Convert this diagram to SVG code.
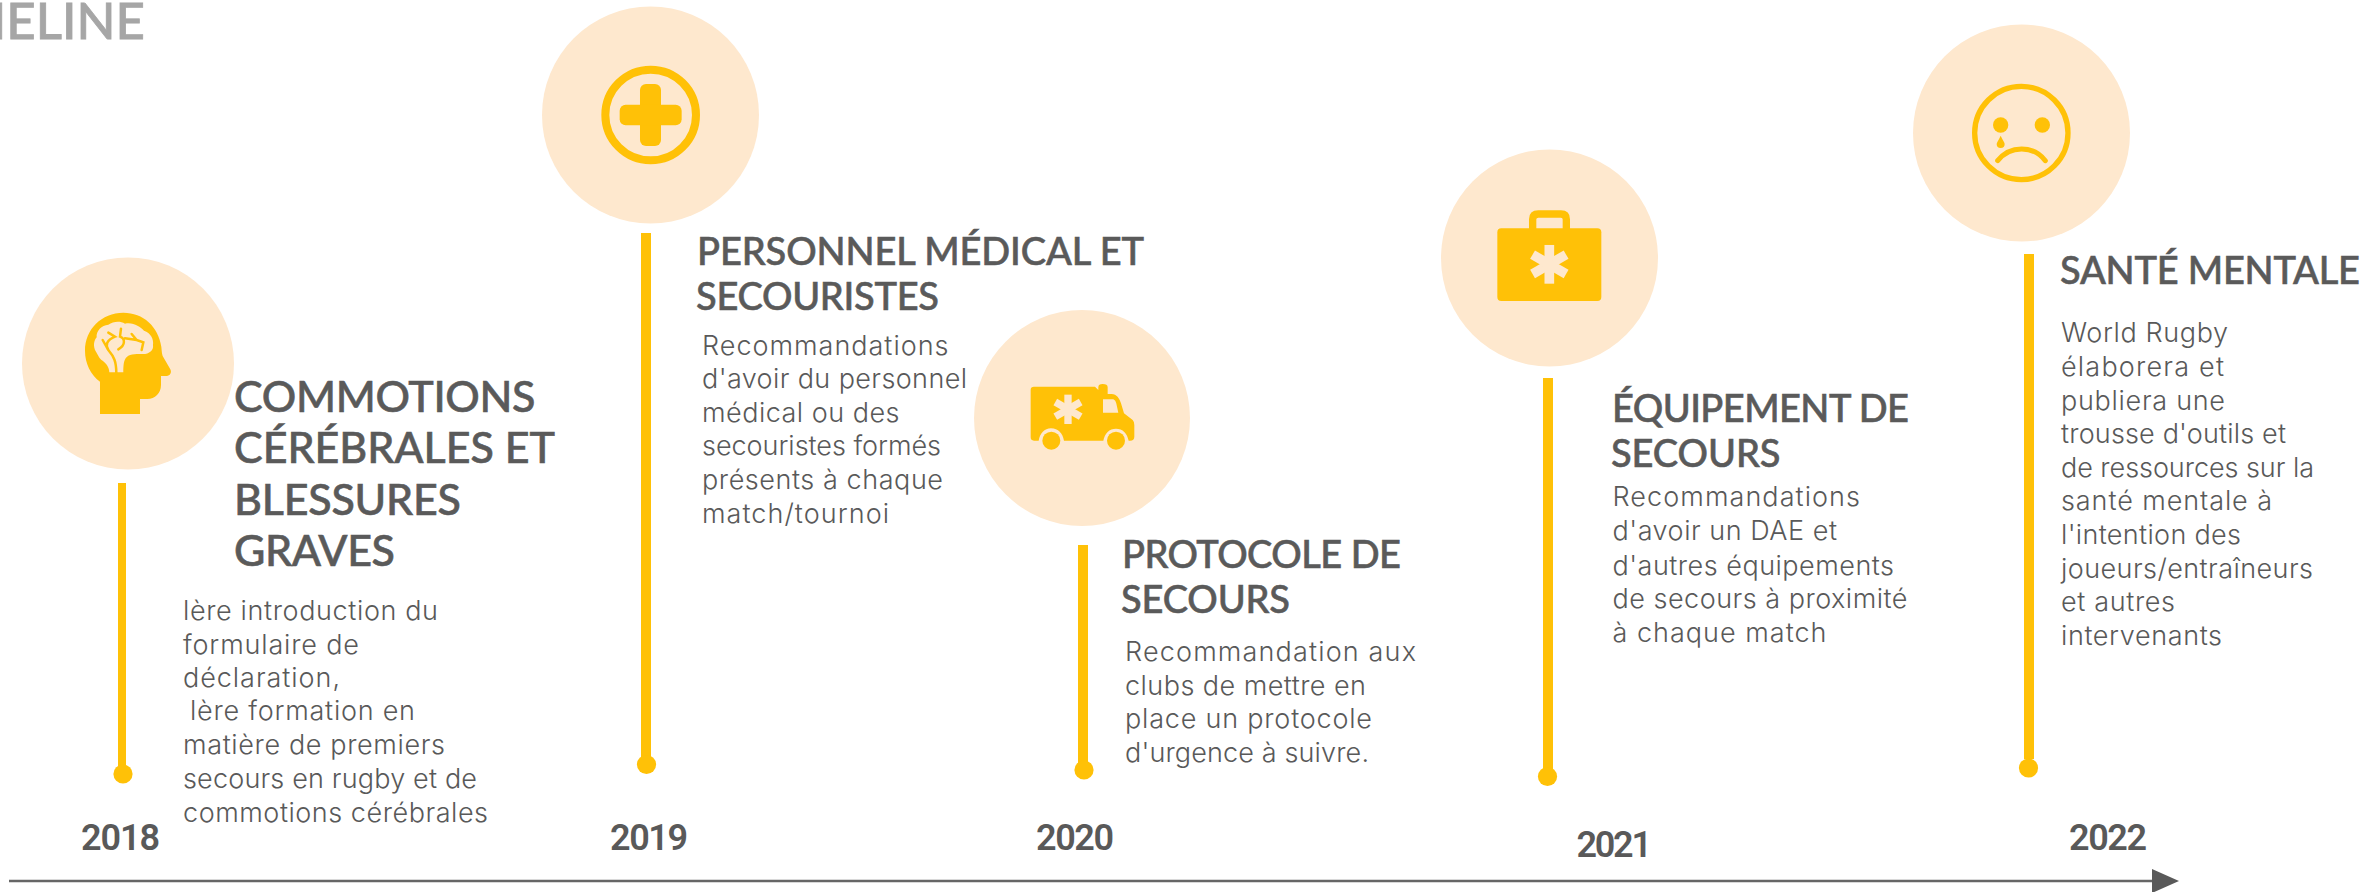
<svg xmlns="http://www.w3.org/2000/svg" width="2374" height="892" viewBox="0 0 2374 892">
<style>
.disc{fill:#FEE8CE}
.bar{fill:#FFC107}
.y{fill:#FFC107}
.l{fill:#FEE8CE}
.ln{fill:none;stroke:#FFC107;stroke-linecap:round}
.h{font-family:"Lato","Liberation Sans",sans-serif;font-weight:500;fill:#5A5A5A;stroke:#5A5A5A;stroke-width:.6px}
.h1{font-size:43px}
.h2{font-size:38px}
.b{font-family:"Inter","Liberation Sans",sans-serif;font-weight:300;font-size:27px;fill:#595959}
.yr{font-family:"Roboto","Liberation Sans",sans-serif;font-weight:600;font-size:36px;fill:#595959}
.ttl{font-family:"Lato","Liberation Sans",sans-serif;font-weight:500;font-size:51px;fill:#A6A6A6;stroke:#A6A6A6;stroke-width:.8px}
</style>
<defs>
<marker id="arrow" markerUnits="userSpaceOnUse" markerWidth="28" markerHeight="24" refX="0" refY="12" orient="auto"><path d="M0 0L27 12L0 24Z" fill="#595959"/></marker>
<g id="star"><rect x="-11" y="-44" width="22" height="88"/><rect x="-11" y="-44" width="22" height="88" transform="rotate(60)"/><rect x="-11" y="-44" width="22" height="88" transform="rotate(-60)"/></g>
</defs>
<rect width="2374" height="892" fill="#FFFFFF"/>
<text class="ttl" x="145" y="39" text-anchor="end">TIMELINE</text>
<g id="connectors">
<line x1="9" y1="881" x2="2152" y2="881" stroke="#666666" stroke-width="2.6" marker-end="url(#arrow)"/>
<rect class="bar" x="118" y="483" width="8" height="288"/>
<rect class="bar" x="641" y="233" width="10" height="525"/>
<rect class="bar" x="1078" y="545" width="10" height="220"/>
<rect class="bar" x="1543" y="378" width="10" height="392"/>
<rect class="bar" x="2024" y="254" width="10" height="505"/>
</g>
<g id="node-2018">
<circle class="disc" cx="128" cy="363.5" r="106"/>
<g transform="translate(60 290) scale(.3333)">
<path class="y" d="M120 372V275C92 255 75 220 75 182C75 118 125 68 190 68C250 68 295 110 304 170C305 182 306 192 308 198L331 238C336 248 330 258 320 258H303V285C303 310 285 327 262 327H240V372Z"/>
<path class="l" d="M148 247C148 232 140 222 128 212C118 207 114 195 108 185C98 170 102 150 110 142C108 122 125 106 145 104C160 94 180 92 195 101C220 96 240 110 252 122C272 128 282 148 279 165C282 182 265 194 245 192C225 192 205 192 197 205C190 215 190 235 190 247Z"/>
<path class="ln" stroke-width="7.5" d="M169 250C169 215 162 200 145 180L128 150M145 180C135 165 140 150 165 140L145 128M175 178C198 165 195 145 180 140L183 116M195 145L230 150L250 157L245 180M230 150L215 132"/>
</g>
<circle class="y" cx="123" cy="774" r="9.6"/>
<text class="h h1"><tspan x="234" y="412" textLength="301.5">COMMOTIONS</tspan><tspan x="234" y="463" textLength="321">CÉRÉBRALES ET</tspan><tspan x="234" y="515" textLength="227">BLESSURES</tspan><tspan x="234" y="566" textLength="161">GRAVES</tspan></text>
<text class="b"><tspan x="183" y="619.5" textLength="255">lère introduction du</tspan><tspan x="183" y="653.5" textLength="176">formulaire de</tspan><tspan x="183" y="686.5" textLength="157">déclaration,</tspan><tspan x="190" y="720" textLength="225">lère formation en</tspan><tspan x="183" y="753.5" textLength="262">matière de premiers</tspan><tspan x="183" y="788" textLength="294">secours en rugby et de</tspan><tspan x="183" y="821.5" textLength="305">commotions cérébrales</tspan></text>
<text class="yr" x="81" y="850" textLength="79">2018</text>
</g>
<g id="node-2019">
<circle class="disc" cx="650.5" cy="115" r="108.5"/>
<g transform="translate(590 50) scale(.3333)">
<circle cx="182" cy="195" r="136" fill="none" stroke="#FFC107" stroke-width="24"/>
<rect class="y" x="150" y="102" width="63" height="186" rx="18"/>
<rect class="y" x="89" y="164" width="186" height="62" rx="18"/>
</g>
<circle class="y" cx="646.5" cy="764.5" r="9.6"/>
<text class="h h2"><tspan x="697" y="265" textLength="447">PERSONNEL MÉDICAL ET</tspan><tspan x="696" y="310" textLength="243">SECOURISTES</tspan></text>
<text class="b"><tspan x="702" y="354.5" textLength="246.5">Recommandations</tspan><tspan x="702" y="387.5" textLength="265">d'avoir du personnel</tspan><tspan x="702" y="421.5" textLength="197.5">médical ou des</tspan><tspan x="702" y="454.5" textLength="239">secouristes formés</tspan><tspan x="702" y="488.5" textLength="241">présents à chaque</tspan><tspan x="702" y="522.5" textLength="187">match/tournoi</tspan></text>
<text class="yr" x="610" y="850" textLength="78">2019</text>
</g>
<g id="node-2020">
<circle class="disc" cx="1082" cy="418" r="108"/>
<g transform="translate(1010 370) scale(.3333)">
<path class="y" d="M62 60Q62 50 72 50H255L265 60V52Q265 42 278 42Q293 42 293 52V72H305C320 72 328 85 333 100L342 130L368 150Q373 155 373 165V200Q373 212 360 212H356C352 190 338 176 318 176C298 176 284 190 280 212H162C158 190 145 175 123 175C103 175 90 190 86 212H72Q62 212 62 202Z"/>
<path class="l" d="M279 88H307C315 88 318 95 320 105L325 128H279Z"/>
<circle class="y" cx="124" cy="212" r="27"/>
<circle class="y" cx="318" cy="212" r="27"/>
<use href="#star" class="l" transform="translate(174 118)"/>
</g>
<circle class="y" cx="1084" cy="770" r="9.6"/>
<text class="h h2"><tspan x="1122" y="568" textLength="279">PROTOCOLE DE</tspan><tspan x="1121" y="613" textLength="169">SECOURS</tspan></text>
<text class="b"><tspan x="1125" y="660.5" textLength="291">Recommandation aux</tspan><tspan x="1125" y="694.5" textLength="241">clubs de mettre en</tspan><tspan x="1125" y="728" textLength="247">place un protocole</tspan><tspan x="1125" y="761.5" textLength="244">d'urgence à suivre.</tspan></text>
<text class="yr" x="1036" y="850" textLength="78">2020</text>
</g>
<g id="node-2021">
<circle class="disc" cx="1549.5" cy="258" r="108.5"/>
<g transform="translate(1480 200) scale(.3333)">
<rect class="y" x="52" y="85" width="312" height="218" rx="12"/>
<path d="M158 88V58Q158 42 175 42H243Q259 42 259 58V88" fill="none" stroke="#FFC107" stroke-width="22"/>
<use href="#star" class="l" transform="translate(208 193) scale(1.32)"/>
</g>
<circle class="y" cx="1547.5" cy="776.5" r="9.6"/>
<text class="h h2"><tspan x="1612" y="422" textLength="297">ÉQUIPEMENT DE</tspan><tspan x="1611" y="467" textLength="169.5">SECOURS</tspan></text>
<text class="b"><tspan x="1612.5" y="506" textLength="247.5">Recommandations</tspan><tspan x="1612.5" y="540" textLength="224.5">d'avoir un DAE et</tspan><tspan x="1612.5" y="574.5" textLength="281.5">d'autres équipements</tspan><tspan x="1612.5" y="608" textLength="295">de secours à proximité</tspan><tspan x="1612.5" y="641.5" textLength="214">à chaque match</tspan></text>
<text class="yr" x="1576.5" y="857" textLength="75.5">2021</text>
</g>
<g id="node-2022">
<circle class="disc" cx="2021.5" cy="133" r="108.5"/>
<g transform="translate(1960 70) scale(.3333)">
<circle cx="184" cy="189" r="140" fill="none" stroke="#FFC107" stroke-width="16"/>
<circle class="y" cx="122" cy="165" r="23"/>
<circle class="y" cx="247" cy="165" r="23"/>
<path class="y" d="M122 197C128 210 134 218 134 222A12 12 0 0 1 110 222C110 218 116 210 122 197Z"/>
<path class="ln" stroke-width="15" d="M113 272C150 225 220 225 256 272"/>
</g>
<circle class="y" cx="2028.5" cy="768" r="9.6"/>
<text class="h h2" x="2060" y="284" textLength="300">SANTÉ MENTALE</text>
<text class="b"><tspan x="2061" y="342" textLength="167">World Rugby</tspan><tspan x="2061" y="376" textLength="163">élaborera et</tspan><tspan x="2061" y="410" textLength="164">publiera une</tspan><tspan x="2061" y="443" textLength="225">trousse d'outils et</tspan><tspan x="2061" y="477" textLength="253">de ressources sur la</tspan><tspan x="2061" y="510" textLength="211">santé mentale à</tspan><tspan x="2061" y="544" textLength="180">l'intention des</tspan><tspan x="2061" y="577.5" textLength="252">joueurs/entraîneurs</tspan><tspan x="2061" y="611" textLength="114">et autres</tspan><tspan x="2061" y="645" textLength="161">intervenants</tspan></text>
<text class="yr" x="2069" y="850" textLength="78">2022</text>
</g>
</svg>
